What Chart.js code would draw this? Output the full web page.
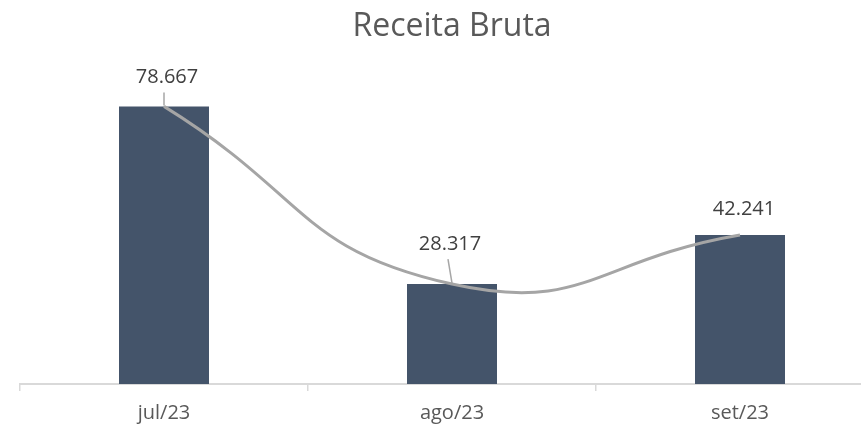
<!DOCTYPE html>
<html lang="pt">
<head>
  <meta charset="UTF-8">
  <script src="https://cdn.jsdelivr.net/npm/chart.js@4.4.0/dist/chart.umd.min.js"></script>
  <style>
    * { margin: 0; padding: 0; box-sizing: border-box; }
    html, body { background: #ffffff; overflow: hidden; }
    #wrap { width: 905px; height: 425px; overflow: hidden; }
  </style>
  <title>Receita Bruta</title>
</head>
<body>
  <div id="wrap">
    <canvas id="myChart" width="905" height="435"></canvas>
  </div>

<script>
  // dados
  var meses = ["jul/23", "ago/23", "set/23"];
  var receita = [78667, 28317, 42241];
  var tituloGrafico = "Receita Bruta";

  function fmtBR(v) {
    return String(v).replace(/\B(?=(\d{3})+(?!\d))/g, ".");
  }

  // rotulos de dados com linhas de chamada (estilo Excel)
  var rotulosPlugin = {
    id: "rotulos",
    afterDatasetsDraw: function (chart, args, opts) {
      var ctx = chart.ctx;
      var meta = chart.getDatasetMeta(0);
      ctx.save();
      ctx.font = opts.font;
      ctx.fillStyle = opts.color;
      ctx.textAlign = "center";
      ctx.textBaseline = "middle";
      meta.data.forEach(function (bar, i) {
        var o = opts.offsets[i];
        var lx = bar.x + o.dx;
        var ly = bar.y + o.dy;
        ctx.fillText(fmtBR(receita[i]), lx, ly);
        if (o.leader) {
          ctx.strokeStyle = opts.leaderColor;
          ctx.lineWidth = 1.5;
          ctx.beginPath();
          ctx.moveTo(lx + o.lx, ly + 15);
          ctx.lineTo(bar.x, bar.y - 1);
          ctx.stroke();
        }
      });
      ctx.restore();
    }
  };

  var myChart = new Chart("myChart", {
    data: {
      labels: meses,
      datasets: [{
        type: "bar",
        data: receita,
        backgroundColor: "#44546A",
        barPercentage: 1,
        categoryPercentage: 0.3125,
        order: 2
      }, {
        type: "line",
        data: receita,
        borderColor: "#A5A5A5",
        borderWidth: 3,
        pointRadius: 0,
        tension: 0.5,
        fill: false,
        order: 1
      }]
    },
    options: {
      responsive: false,
      animation: false,
      layout: { padding: { left: 20, right: 21, top: 0, bottom: 0 } },
      plugins: {
        legend: { display: false },
        tooltip: { enabled: false },
        title: {
          display: true,
          text: tituloGrafico,
          color: "#595959",
          font: { family: "'Open Sans', sans-serif", size: 32, weight: "normal" },
          padding: { top: 8, bottom: 20 }
        },
        rotulos: {
          font: "20px 'Open Sans', sans-serif",
          color: "#404040",
          leaderColor: "#A6A6A6",
          offsets: [
            { dx: 3, dy: -29, leader: true, lx: -3 },
            { dx: -2, dy: -40, leader: true, lx: -2 },
            { dx: 4, dy: -26, leader: false, lx: 0 }
          ]
        }
      },
      scales: {
        x: {
          grid: {
            display: true,
            drawOnChartArea: false,
            drawTicks: true,
            tickLength: 7,
            color: "#D9D9D9",
            lineWidth: 1.5
          },
          border: { display: true, color: "#D9D9D9", width: 2 },
          ticks: {
            color: "#595959",
            padding: 10,
            font: { family: "'Open Sans', sans-serif", size: 20 }
          }
        },
        y: {
          display: false,
          min: 0,
          max: 90000
        }
      }
    },
    plugins: [rotulosPlugin]
  });
</script>
</body>
</html>
